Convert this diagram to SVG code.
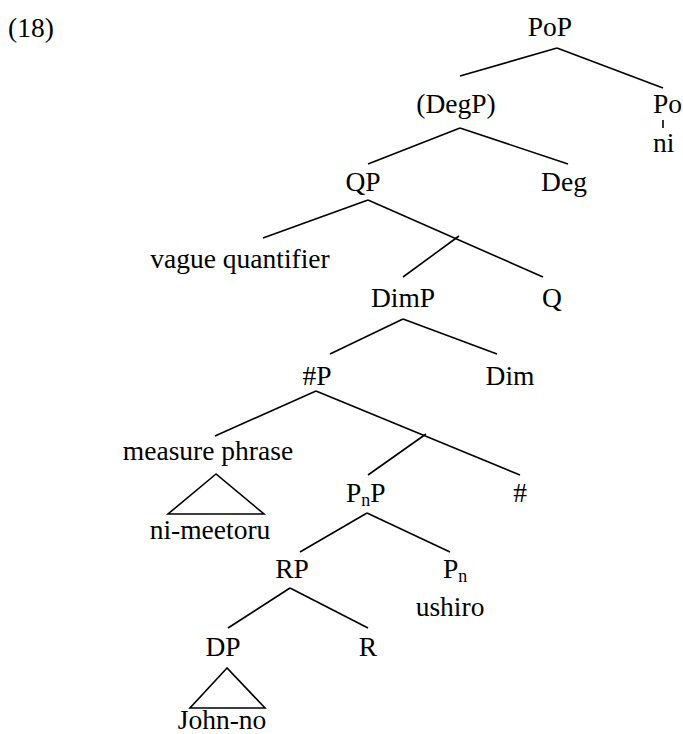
<svg xmlns="http://www.w3.org/2000/svg" width="683" height="734" viewBox="0 0 683 734">
<style>
text{font-family:"Liberation Serif","Times New Roman",serif;font-size:27.5px;fill:#000}
.m{text-anchor:middle}
.sub{font-size:18px}
#edges line,#edges polygon{stroke:#000;stroke-width:1.6;fill:none;stroke-linecap:butt}
</style>
<rect width="683" height="734" fill="#fff"/>
<text x="8" y="37">(18)</text>
<g id="edges">
<line x1="557" y1="48" x2="460" y2="76"/>
<line x1="557" y1="48" x2="663" y2="88"/>
<line x1="663" y1="120" x2="663" y2="128"/>
<line x1="460" y1="128" x2="368" y2="164"/>
<line x1="460" y1="128" x2="568" y2="164"/>
<line x1="368" y1="200" x2="263" y2="238"/>
<line x1="368" y1="200" x2="543" y2="277"/>
<line x1="459" y1="236" x2="403" y2="277"/>
<line x1="403" y1="319" x2="330" y2="354"/>
<line x1="403" y1="319" x2="497" y2="354"/>
<line x1="316" y1="391" x2="215" y2="436"/>
<line x1="316" y1="391" x2="520" y2="475"/>
<line x1="426" y1="434" x2="368" y2="475"/>
<polygon points="216,474 168,514 264,514"/>
<line x1="367" y1="513" x2="300" y2="552"/>
<line x1="367" y1="513" x2="450" y2="552"/>
<line x1="290" y1="588" x2="228" y2="628"/>
<line x1="290" y1="588" x2="368" y2="628"/>
<polygon points="227,668 190,708 265,708"/>
</g>
<g id="PoP"><text class="m" x="550" y="36">PoP</text></g>
<g id="DegP"><text class="m" x="456" y="113">(DegP)</text></g>
<g id="Po"><text x="653" y="113">Po</text></g>
<g id="ni"><text x="653" y="152">ni</text></g>
<g id="QP"><text class="m" x="363" y="191">QP</text></g>
<g id="Deg"><text class="m" x="564" y="191">Deg</text></g>
<g id="vague"><text class="m" x="240" y="268">vague quantifier</text></g>
<g id="DimP"><text class="m" x="403" y="307">DimP</text></g>
<g id="Q"><text class="m" x="552" y="307">Q</text></g>
<g id="NumP"><text class="m" x="317" y="385">#P</text></g>
<g id="Dim"><text class="m" x="510" y="385">Dim</text></g>
<g id="measure"><text class="m" x="208" y="460">measure phrase</text></g>
<g id="nimeetoru"><text class="m" x="210" y="539">ni-meetoru</text></g>
<g id="PnP"><text x="346" y="502">P<tspan class="sub" dy="4">n</tspan><tspan dy="-4">P</tspan></text></g>
<g id="Num"><text class="m" x="520" y="502">#</text></g>
<g id="RP"><text class="m" x="292" y="578">RP</text></g>
<g id="Pn"><text x="443" y="578">P<tspan class="sub" dy="4">n</tspan></text></g>
<g id="ushiro"><text class="m" x="450" y="616">ushiro</text></g>
<g id="DP"><text class="m" x="223" y="656">DP</text></g>
<g id="R"><text class="m" x="368" y="656">R</text></g>
<g id="Johnno"><text class="m" x="222" y="729">John-no</text></g>
</svg>
